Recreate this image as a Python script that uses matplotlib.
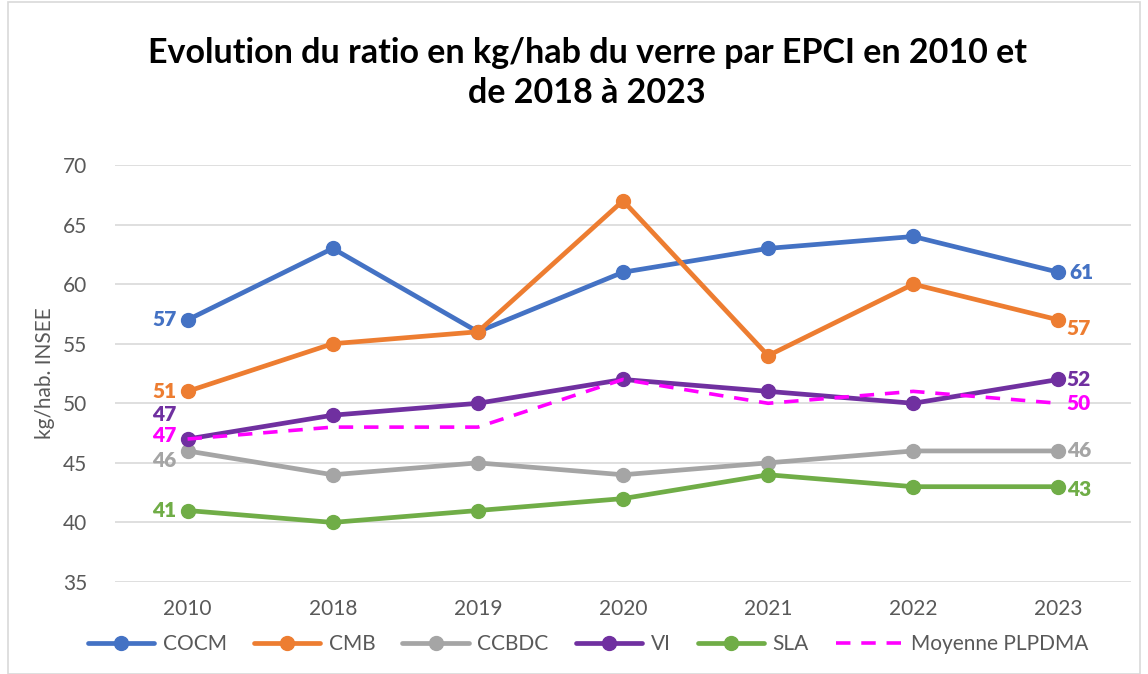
import matplotlib.pyplot as plt
from matplotlib.patches import Rectangle

years = ["2010", "2018", "2019", "2020", "2021", "2022", "2023"]
cocm = [57, 63, 56, 61, 63, 64, 61]
cmb = [51, 55, 56, 67, 54, 60, 57]
ccbdc = [46, 44, 45, 44, 45, 46, 46]
vi = [47, 49, 50, 52, 51, 50, 52]
sla = [41, 40, 41, 42, 44, 43, 43]
moyenne = [47, 48, 48, 52, 50, 51, 50]

plt.rcParams['font.family'] = ['Lato', 'DejaVu Sans']

fig = plt.figure(figsize=(11.48, 6.74), dpi=100)
ax = fig.add_axes([115 / 1148, 1 - 582 / 674, (1131 - 115) / 1148, (582 - 165) / 674])

x = list(range(len(years)))
series = [
    ("COCM", cocm, "#4472C4"),
    ("CMB", cmb, "#ED7D31"),
    ("CCBDC", ccbdc, "#A5A5A5"),
    ("VI", vi, "#7030A0"),
    ("SLA", sla, "#70AD47"),
]
for name, vals, col in series:
    ax.plot(x, vals, color=col, lw=3.4, marker="o", ms=10, label=name,
            solid_capstyle="round")
ax.plot(x, moyenne, color="#FF00FF", lw=2.6, ls=(0, (4, 3)), label="Moyenne PLPDMA")

# labels at first and last points
fs = 15
def lab(xi, v, col, dx, dy, ha):
    ax.annotate(str(v), (xi, v), xytext=(dx, dy), textcoords="offset points",
                ha=ha, va="center", color=col, fontsize=fs, fontweight="heavy")

lab(0, cocm[0], "#4472C4", -8, 0, "right")
lab(0, cmb[0], "#ED7D31", -8, 0, "right")
lab(0, ccbdc[0], "#A5A5A5", -8, -7, "right")
lab(0, vi[0], "#7030A0", -8, 17.5, "right")
lab(0, moyenne[0], "#FF00FF", -8, 2.5, "right")
lab(0, sla[0], "#70AD47", -8, 0, "right")

n = len(years) - 1
lab(n, cocm[n], "#4472C4", 8, 0, "left")
lab(n, cmb[n], "#ED7D31", 6, -6, "left")
lab(n, ccbdc[n], "#A5A5A5", 6, 0, "left")
lab(n, vi[n], "#7030A0", 6, 0, "left")
lab(n, moyenne[n], "#FF00FF", 6, 0, "left")
lab(n, sla[n], "#70AD47", 6, -2, "left")

ax.set_xlim(-0.5, n + 0.5)
ax.set_ylim(35, 70)
ax.set_yticks(range(35, 71, 5))
ax.set_xticks(x)
ax.set_xticklabels(years)
ax.grid(axis="y", color="#D9D9D9", lw=1.2)
ax.set_axisbelow(True)
for s in ax.spines.values():
    s.set_visible(False)
ax.tick_params(length=0, labelsize=15, colors="#595959", pad=12)
ax.tick_params(axis="y", pad=20)
ax.set_ylabel("kg/hab. INSEE", fontsize=15, color="#595959", labelpad=6)

fig.text(587 / 1148, 1 - 73 / 674,
         "Evolution du ratio en kg/hab du verre par EPCI en 2010 et\nde 2018 à 2023",
         ha="center", va="center", fontsize=24.5, fontweight="bold", linespacing=1.3)

leg = fig.legend(loc="center", bbox_to_anchor=(588 / 1148, 1 - 644 / 674), ncol=6,
                 frameon=False, fontsize=15, handlelength=3.2, columnspacing=1.3,
                 handletextpad=0.4)
for t in leg.get_texts():
    t.set_color("#595959")

fig.patches.append(Rectangle((8 / 1148, 0), 1 - 16 / 1148, 1 - 2 / 674,
                             transform=fig.transFigure, fill=False,
                             edgecolor="#D9D9D9", lw=1.2))

fig.savefig("out.png", dpi=100)
